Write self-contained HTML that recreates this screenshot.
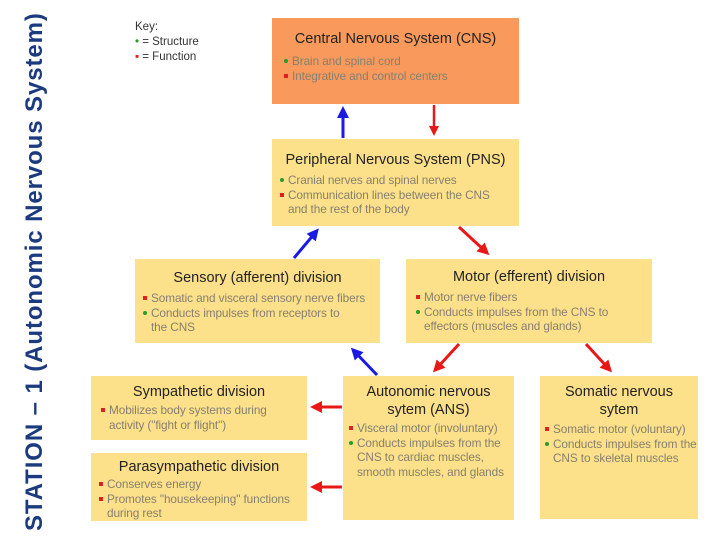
<!DOCTYPE html>
<html><head><style>
body{margin:0;width:720px;height:540px;background:#fff;position:relative;overflow:hidden;font-family:"Liberation Sans",sans-serif}
.b{position:absolute;background:#fde08a;box-sizing:border-box}
.t{color:#222;font-size:14.5px;text-align:center;line-height:18px}
.l{color:#858070;font-size:11.8px;line-height:14.5px;position:relative;padding-left:10px;letter-spacing:-0.1px;white-space:nowrap}
.l i{position:absolute;left:2px;top:5px;width:4px;height:4px}
.g i{background:#2a9a2a;border-radius:50%}
.r i{background:#e02020}
.title{position:absolute;left:21px;top:531px;transform:rotate(-90deg);transform-origin:0 0;white-space:nowrap;font-weight:bold;font-size:24px;letter-spacing:0.9px;color:#1c3a7e}
</style></head><body>
<div class="title">STATION – 1 (Autonomic Nervous System)</div>
<div style="position:absolute;left:135px;top:20px;font-size:11.5px;line-height:15px;color:#333">Key:<br><span style="color:#2a9a2a">•</span> = Structure<br><span style="color:#e02020">▪</span> = Function</div>

<div class="b" style="left:272px;top:18px;width:247px;height:86px;background:#f99a5c;padding:12px 10px">
<div class="t" style="margin-bottom:6px">Central Nervous System (CNS)</div>
<div class="l g"><i></i>Brain and spinal cord</div>
<div class="l r"><i></i>Integrative and control centers</div></div>

<div class="b" style="left:272px;top:139px;width:247px;height:87px;padding:12px 6px">
<div class="t" style="margin-bottom:4px">Peripheral Nervous System (PNS)</div>
<div class="l g"><i></i>Cranial nerves and spinal nerves</div>
<div class="l r"><i></i>Communication lines between the CNS<br>and the rest of the body</div></div>

<div class="b" style="left:135px;top:259px;width:245px;height:84px;padding:10px 6px">
<div class="t" style="margin-bottom:4px">Sensory (afferent) division</div>
<div class="l r"><i></i>Somatic and visceral sensory nerve fibers</div>
<div class="l g"><i></i>Conducts impulses from receptors to<br>the CNS</div></div>

<div class="b" style="left:406px;top:259px;width:246px;height:84px;padding:9px 8px">
<div class="t" style="margin-bottom:4px">Motor (efferent) division</div>
<div class="l r"><i></i>Motor nerve fibers</div>
<div class="l g"><i></i>Conducts impulses from the CNS to<br>effectors (muscles and glands)</div></div>

<div class="b" style="left:91px;top:376px;width:216px;height:64px;padding:7px 8px">
<div class="t" style="margin-bottom:2px">Sympathetic division</div>
<div class="l r"><i></i>Mobilizes body systems during<br>activity ("fight or flight")</div></div>

<div class="b" style="left:91px;top:453px;width:216px;height:68px;padding:5px 6px">
<div class="t" style="margin-bottom:1px">Parasympathetic division</div>
<div class="l r"><i></i>Conserves energy</div>
<div class="l r"><i></i>Promotes "housekeeping" functions<br>during rest</div></div>

<div class="b" style="left:343px;top:376px;width:171px;height:144px;padding:7px 4px">
<div class="t" style="margin-bottom:2px">Autonomic nervous<br>sytem (ANS)</div>
<div class="l r"><i></i>Visceral motor (involuntary)</div>
<div class="l g"><i></i>Conducts impulses from the<br>CNS to cardiac muscles,<br>smooth muscles, and glands</div></div>

<div class="b" style="left:540px;top:376px;width:158px;height:143px;padding:7px 3px">
<div class="t" style="margin-bottom:3px">Somatic nervous<br>sytem</div>
<div class="l r"><i></i>Somatic motor (voluntary)</div>
<div class="l g"><i></i>Conducts impulses from the<br>CNS to skeletal muscles</div></div>

<svg width="720" height="540" style="position:absolute;left:0;top:0">
<defs>
<marker id="rb" markerWidth="4" markerHeight="4" refX="2" refY="2" orient="auto"><path d="M0,0L4,2L0,4z" fill="#1a1ae0"/></marker>
<marker id="rr" markerWidth="4" markerHeight="4" refX="2" refY="2" orient="auto"><path d="M0,0L4,2L0,4z" fill="#e81818"/></marker>
</defs>
<g stroke-width="3" fill="none">
<line x1="343" y1="138" x2="343" y2="112" stroke="#1a1ae0" marker-end="url(#rb)"/>
<line x1="434" y1="105" x2="434" y2="131" stroke="#e81818" stroke-width="2.5" marker-end="url(#rr)"/>
<line x1="294" y1="258" x2="315" y2="233" stroke="#1a1ae0" marker-end="url(#rb)"/>
<line x1="459" y1="227" x2="485" y2="251" stroke="#e81818" marker-end="url(#rr)"/>
<line x1="377" y1="375" x2="355" y2="352" stroke="#1a1ae0" marker-end="url(#rb)"/>
<line x1="459" y1="344" x2="437" y2="368" stroke="#e81818" marker-end="url(#rr)"/>
<line x1="586" y1="344" x2="608" y2="368" stroke="#e81818" marker-end="url(#rr)"/>
<line x1="342" y1="407" x2="316" y2="407" stroke="#e81818" marker-end="url(#rr)"/>
<line x1="342" y1="487" x2="316" y2="487" stroke="#e81818" marker-end="url(#rr)"/>
</g></svg>
</body></html>
